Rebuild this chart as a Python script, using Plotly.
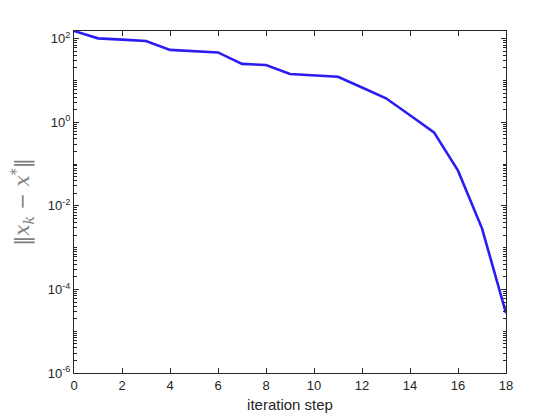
import numpy as np
import plotly.graph_objects as go

# error norm per iteration
steps = list(range(19))
err = [153, 102, 95, 88, 54, 51, 47, 25, 23.5, 14.3, 13.3, 12.3,
       6.8, 3.75, 1.47, 0.575, 0.0695, 0.0029, 2.7e-5]

ytick_vals = [1e2, 1e0, 1e-2, 1e-4, 1e-6]
ytick_text = ["10<sup>2</sup>", "10<sup>0</sup>", "10<sup>-2</sup>",
              "10<sup>-4</sup>", "10<sup>-6</sup>"]
xtick_vals = list(range(0, 19, 2))

LINE = "#2b1cf2"
INK = "#262626"
FONT = "Liberation Sans, Arial, sans-serif"

fig = go.Figure(go.Scatter(
    x=steps, y=err, mode="lines",
    line=dict(color=LINE, width=2.6),
    showlegend=False,
))

axis = dict(showline=True, linecolor=INK, linewidth=1, mirror="ticks",
            ticks="inside", ticklen=5, tickcolor=INK, showgrid=False,
            zeroline=False, automargin=False,
            tickfont=dict(family=FONT, size=13, color=INK))

# the page body adds an 8px offset, so margins are shifted to compensate
fig.update_layout(
    width=560, height=420,
    paper_bgcolor="white", plot_bgcolor="white",
    margin=dict(l=66, r=62, t=23, b=55),
    font=dict(family=FONT, size=13, color=INK),
)
fig.update_xaxes(range=[0, 18], tickvals=xtick_vals,
                 title=dict(text="iteration step", standoff=7,
                            font=dict(family=FONT, size=15, color=INK)),
                 **axis)
fig.update_yaxes(type="log", range=[-6, np.log10(max(err))],
                 tickvals=ytick_vals, ticktext=ytick_text,
                 minor=dict(ticks="inside", ticklen=3, dtick="D1",
                            tickcolor=INK, showgrid=False),
                 title=dict(text="‖<i>x</i><sub><i>k</i></sub> − <i>x</i><sup>*</sup>‖",
                            standoff=14,
                            font=dict(family="DejaVu Serif, serif", size=20,
                                      color="#808080")),
                 **axis)

fig.write_html("out.html")
